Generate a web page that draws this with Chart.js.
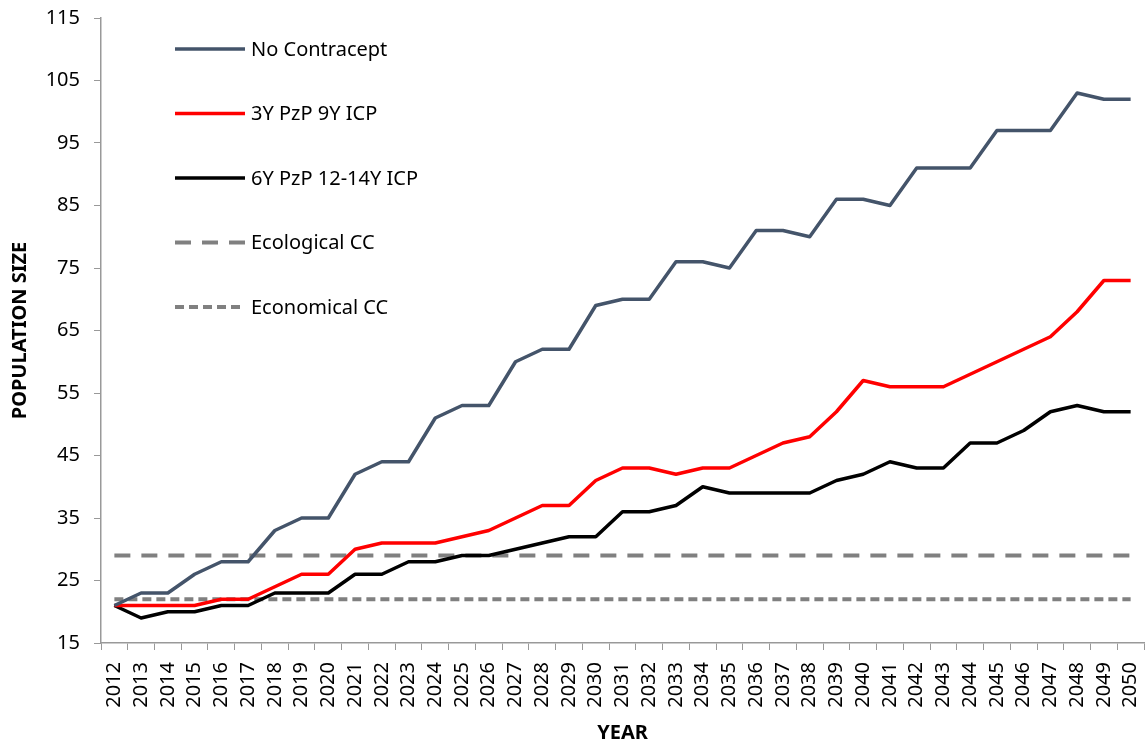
<!DOCTYPE html>
<html>
<head>
<meta charset="utf-8">
<script src="https://cdn.jsdelivr.net/npm/chart.js@4"></script>
<style>
  html, body { margin: 0; padding: 0; background: #fff; }
  #wrap { width: 1146px; height: 745px; }
</style>
</head>
<body>
<div id="wrap"><canvas id="chart" width="1146" height="745"></canvas></div>
<script>
var years = [];
for (var y = 2012; y <= 2050; y++) years.push(String(y));

var noContracept = [21, 23, 23, 26, 28, 28, 33, 35, 35, 42, 44, 44, 51, 53, 53, 60, 62, 62, 69, 70,
    70, 76, 76, 75, 81, 81, 80, 86, 86, 85, 91, 91, 91, 97, 97, 97, 103, 102, 102];
var pzp3y = [21, 21, 21, 21, 22, 22, 24, 26, 26, 30, 31, 31, 31, 32, 33, 35, 37, 37, 41, 43,
    43, 42, 43, 43, 45, 47, 48, 52, 57, 56, 56, 56, 58, 60, 62, 64, 68, 73, 73];
var pzp6y = [21, 19, 20, 20, 21, 21, 23, 23, 23, 26, 26, 28, 28, 29, 29, 30, 31, 32, 32, 36,
    36, 37, 40, 39, 39, 39, 39, 41, 42, 44, 43, 43, 47, 47, 49, 52, 53, 52, 52];
var ecologicalCC = 29;
var economicalCC = 22;

var seriesNames = ["No Contracept", "3Y PzP 9Y ICP", "6Y PzP 12-14Y ICP", "Ecological CC", "Economical CC"];

var fontFam = "'Noto Sans', sans-serif";

function flat(v) {
    return years.map(function () { return v; });
}

// legend drawn inside the plot, Excel style
var legendPlugin = {
    id: "insideLegend",
    afterDraw: function (chart) {
        var ctx = chart.ctx;
        var ds = chart.data.datasets;
        ctx.save();
        for (var i = 0; i < ds.length; i++) {
            var yy = 49 + i * 64.5;
            ctx.beginPath();
            ctx.strokeStyle = ds[i].borderColor;
            ctx.lineWidth = ds[i].borderWidth;
            ctx.setLineDash(ds[i].borderDash || []);
            ctx.moveTo(175, yy);
            ctx.lineTo(245, yy);
            ctx.stroke();
            ctx.setLineDash([]);
            ctx.fillStyle = "#000";
            ctx.font = "20px " + fontFam;
            ctx.textBaseline = "middle";
            ctx.fillText(ds[i].label, 251, yy + 1);
        }
        ctx.restore();
    }
};

var chart = new Chart(document.getElementById("chart"), {
    type: "line",
    data: {
        labels: years,
        datasets: [
            { label: seriesNames[0], data: noContracept, borderColor: "#44546A", borderWidth: 3.5 },
            { label: seriesNames[1], data: pzp3y, borderColor: "#FF0000", borderWidth: 3.5 },
            { label: seriesNames[2], data: pzp6y, borderColor: "#000000", borderWidth: 3.5 },
            { label: seriesNames[3], data: flat(ecologicalCC), borderColor: "#808080", borderWidth: 4, borderDash: [16, 11] },
            { label: seriesNames[4], data: flat(economicalCC), borderColor: "#808080", borderWidth: 4, borderDash: [9, 5] }
        ]
    },
    options: {
        responsive: false,
        animation: false,
        layout: { padding: { top: 0, right: 2, left: 0, bottom: 0 } },
        elements: {
            point: { radius: 0 },
            line: { tension: 0, fill: false, borderCapStyle: "butt", borderJoinStyle: "round" }
        },
        plugins: {
            legend: { display: false },
            tooltip: { enabled: false }
        },
        scales: {
            x: {
                type: "category",
                offset: true,
                grid: { offset: true, drawOnChartArea: false, drawTicks: true, tickLength: 7, color: "#999" },
                border: { color: "#999", width: 1.5 },
                ticks: { color: "#000", font: { family: fontFam, size: 20 }, minRotation: 90, maxRotation: 90, autoSkip: false, padding: 12 },
                title: { display: true, text: "YEAR", color: "#000", font: { family: fontFam, size: 20, weight: "bold" }, padding: { top: 0, bottom: 0 } },
                afterFit: function (s) { s.height = 102; s.paddingRight = 0; s.paddingLeft = 0; }
            },
            y: {
                min: 15,
                max: 115,
                ticks: { stepSize: 10, color: "#000", font: { family: fontFam, size: 20 }, padding: 14 },
                grid: { drawOnChartArea: false, drawTicks: true, tickLength: 7, color: "#999" },
                border: { color: "#999", width: 1.5 },
                title: { display: true, text: "POPULATION SIZE", color: "#000", font: { family: fontFam, size: 20, weight: "bold" }, padding: { top: 8, bottom: 0 } },
                afterFit: function (s) { s.width = 101; s.paddingTop = 18; s.paddingBottom = 0; }
            }
        }
    },
    plugins: [legendPlugin]
});
</script>
</body>
</html>
